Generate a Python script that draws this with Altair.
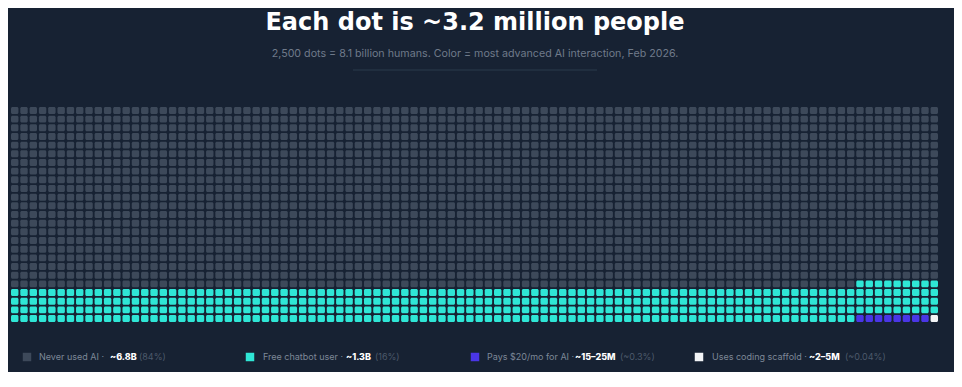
import altair as alt
import pandas as pd

# ---- data ----
categories = ["Never used AI", "Free chatbot user", "Pays $20/mo for AI", "Uses coding scaffold"]
dot_counts = [2091, 400, 8, 1]
colors = ["#3d495a", "#2fe6d6", "#4a36e6", "#f2f4f6"]
legend_values = ["~6.8B", "~1.3B", "~15–25M", "~2–5M"]
legend_pcts = ["(84%)", "(16%)", "(~0.3%)", "(~0.04%)"]
n_cols = 100

title_text = "Each dot is ~3.2 million people"
subtitle_text = "2,500 dots = 8.1 billion humans.  Color = most advanced AI interaction, Feb 2026."

# ---- build dot table ----
rows = []
i = 0
for cat, cnt in zip(categories, dot_counts):
    for _ in range(cnt):
        rows.append({"idx": i, "row": i // n_cols, "col": i % n_cols, "cat": cat})
        i += 1
dots = pd.DataFrame(rows)

BG = "#172233"
W, H = 927, 215

grid = alt.Chart(dots).mark_rect(cornerRadius=1.5).encode(
    x=alt.X("col:O", axis=None, scale=alt.Scale(paddingInner=0.2, paddingOuter=0)),
    y=alt.Y("row:O", axis=None, scale=alt.Scale(paddingInner=0.2, paddingOuter=0)),
    color=alt.Color("cat:N", scale=alt.Scale(domain=categories, range=colors), legend=None),
)

cx = 464
title = alt.Chart(pd.DataFrame({"t": [title_text]})).mark_text(
    font="DejaVu Sans", fontSize=24, fontWeight="bold", color="#ffffff", align="center", baseline="middle"
).encode(text="t:N", x=alt.value(cx), y=alt.value(-84))

subtitle = alt.Chart(pd.DataFrame({"t": [subtitle_text]})).mark_text(
    font="Inter", fontSize=10.7, color="#6f7a8a", align="center", baseline="middle"
).encode(text="t:N", x=alt.value(cx), y=alt.value(-53))

sep = alt.Chart(pd.DataFrame({"a": [0]})).mark_rule(color="#2a3b4d", strokeWidth=1).encode(
    x=alt.value(cx - 122), x2=alt.value(cx + 122), y=alt.value(-37)
)

# legend pieces (positions relative to plot origin)
sq_x = [16, 239, 464, 688]
lab_x = [28, 252, 476, 701]
val_x = [99, 335, 564, 798]
pct_x = [128, 364, 609, 834]
leg_y = 250
leg = pd.DataFrame({
    "cat": categories,
    "label": [c + " ·" for c in categories],
    "val": legend_values,
    "pct": legend_pcts,
    "sx": sq_x, "lx": lab_x, "vx": val_x, "px": pct_x,
})
leg_sq = alt.Chart(leg).mark_square(size=72, opacity=1, cornerRadius=1).encode(
    x=alt.X("sx:Q", scale=None), y=alt.value(leg_y),
    color=alt.Color("cat:N", scale=alt.Scale(domain=categories, range=colors), legend=None),
)
leg_lab = alt.Chart(leg).mark_text(font="Inter", fontSize=9, color="#7d8897", align="left", baseline="middle").encode(
    x=alt.X("lx:Q", scale=None), y=alt.value(leg_y), text="label:N")
leg_val = alt.Chart(leg).mark_text(font="Inter", fontSize=9, fontWeight=800, color="#ffffff", align="left", baseline="middle").encode(
    x=alt.X("vx:Q", scale=None), y=alt.value(leg_y), text="val:N")
leg_pct = alt.Chart(leg).mark_text(font="Inter", fontSize=9, color="#4d5a6b", align="left", baseline="middle").encode(
    x=alt.X("px:Q", scale=None), y=alt.value(leg_y), text="pct:N")

chart = alt.layer(grid, title, subtitle, sep, leg_sq, leg_lab, leg_val, leg_pct).properties(
    width=W, height=H,
    autosize=alt.AutoSizeParams(type="none"),
    padding={"left": 3, "top": 99, "right": 16, "bottom": 50},
    background=BG,
).configure_view(stroke=None).resolve_scale(x="independent")

chart.save("out.html", embed_options={"renderer": "svg", "actions": False})
